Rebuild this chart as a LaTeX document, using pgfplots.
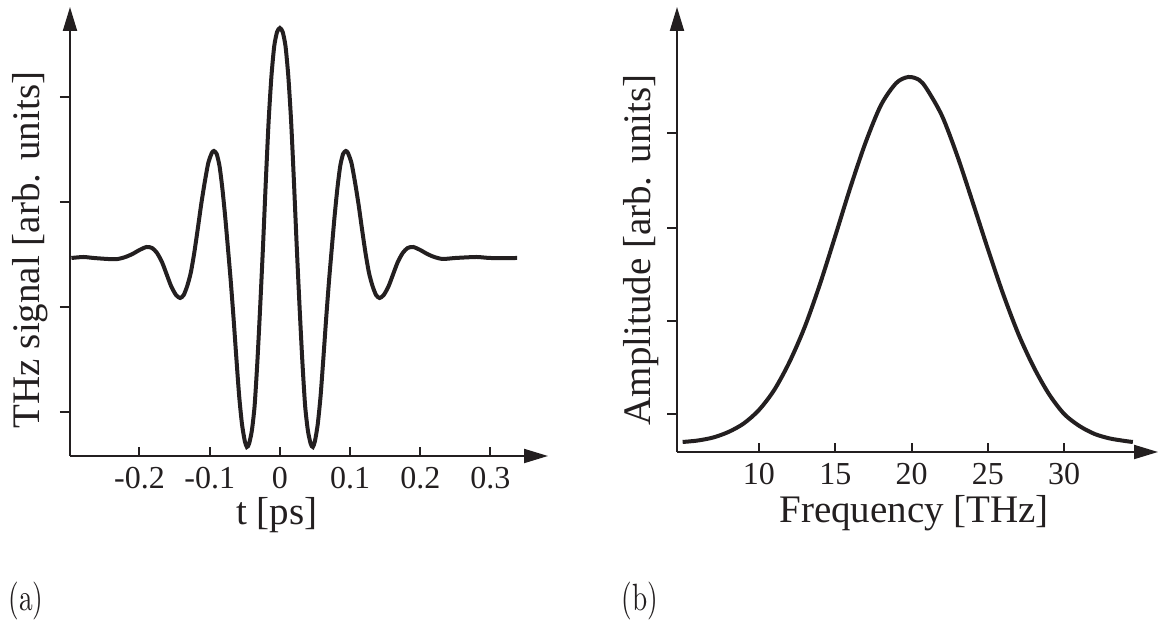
\documentclass[border=0pt]{standalone}
\usepackage{pgfplots}
\pgfplotsset{compat=1.18}
\usepackage{graphicx}
\usepackage{fontspec}
\usetikzlibrary{arrows.meta}
\newfontfamily\tnr{Liberation Serif}
\newfontfamily\lmr{lmroman10-regular.otf}
\definecolor{ink}{HTML}{231F20}

\pgfplotsset{
  pulse/.style={
    scale only axis,
    axis lines=left,
    axis line style={line width=1pt, ink, -{Triangle[length=12pt,width=7pt]}},
    tick align=inside,
    major tick length=4.5pt,
    tick style={line width=1pt, ink},
    every y tick/.append style={xshift=-5pt},
    yticklabels={},
    xticklabel style={font=\tnr\fontsize{16}{19}\selectfont, anchor=base, text=ink, inner sep=0pt},
    label style={font=\tnr\fontsize{19.5}{22}\selectfont, text=ink, inner sep=0pt},
    clip=false,
  },
}

\begin{document}
\begin{tikzpicture}
\useasboundingbox (0,0) rectangle (580.5pt,312.5pt);

% (a) time-domain pulse
\begin{axis}[pulse,
  at={(35pt,84.5pt)}, anchor=south west,
  width=239pt, height=224.5pt,
  xmin=-0.299, xmax=0.382, ymin=0, ymax=449,
  xtick={-0.2,-0.1,0,0.1,0.2,0.3},
  xticklabels={-0.2,-0.1,0,0.1,0.2,0.3},
  xticklabel style={yshift=-16.5pt},
  ytick={44,149,254,359},
  xlabel={t [ps]},
  xlabel style={at={(axis description cs:0.433,-0.153)}, anchor=base},
  ylabel={THz signal [arb. units]},
  ylabel style={at={(axis description cs:-0.063,0.459)}, anchor=base, rotate=0},
]
\addplot[line width=2pt, ink, smooth, tension=0.4] coordinates {
(-0.297,198) (-0.280,199) (-0.265,198) (-0.245,197) (-0.231,197) (-0.220,199)
(-0.210,202) (-0.200,206) (-0.190,209) (-0.182,208) (-0.175,203) (-0.168,194)
(-0.162,183) (-0.155,170) (-0.148,161) (-0.142,158) (-0.137,161) (-0.132,170)
(-0.127,183) (-0.122,203) (-0.117,227) (-0.112,252) (-0.107,274) (-0.102,293)
(-0.097,303) (-0.094,305) (-0.090,302) (-0.086,290) (-0.082,268) (-0.078,240)
(-0.074,208) (-0.070,175) (-0.066,138) (-0.062,98) (-0.058,60) (-0.054,32)
(-0.050,15) (-0.047,9) (-0.044,12) (-0.040,25) (-0.036,50) (-0.032,95)
(-0.028,150) (-0.024,210) (-0.020,275) (-0.016,335) (-0.012,380) (-0.008,410)
(-0.004,424) (0.000,428)
(0.004,424) (0.008,410) (0.012,380) (0.016,335) (0.020,275) (0.024,210)
(0.028,150) (0.032,95) (0.036,50) (0.040,25) (0.044,12) (0.047,9)
(0.050,15) (0.054,32) (0.058,60) (0.062,98) (0.066,138) (0.070,175)
(0.074,208) (0.078,240) (0.082,268) (0.086,290) (0.090,302) (0.094,305)
(0.097,303) (0.102,293) (0.107,274) (0.112,252) (0.117,227) (0.122,203)
(0.127,183) (0.132,170) (0.137,161) (0.142,158) (0.148,161) (0.155,170)
(0.162,183) (0.168,194) (0.175,203) (0.182,208) (0.190,209) (0.200,206)
(0.210,202) (0.220,199) (0.232,197) (0.250,198) (0.280,199) (0.300,198)
(0.338,198)
};
\end{axis}

% (b) spectrum
\begin{axis}[pulse,
  at={(338.5pt,86.5pt)}, anchor=south west,
  width=240.5pt, height=222.5pt,
  xmin=4.63, xmax=36.15, ymin=0, ymax=445,
  xtick={10,15,20,25,30},
  xticklabels={10,15,20,25,30},
  xticklabel style={yshift=-16.5pt},
  ytick={38,131,224,319},
  xlabel={Frequency [THz]},
  xlabel style={at={(axis description cs:0.493,-0.158)}, anchor=base},
  ylabel={Amplitude [arb. units]},
  ylabel style={at={(axis description cs:-0.056,0.454)}, anchor=base, rotate=0},
]
\addplot[line width=2pt, ink, smooth, tension=0.5] coordinates {
(5.0,10) (6,11.5) (7,14.5) (8,20) (9,28.5) (10,42) (11,62) (12,90)
(13,125) (14,168) (15,216) (16,265) (17,310) (18,347) (19,369) (19.8,375)
(20.5,372) (21,363) (22,336) (23,296) (24,250) (25,203) (26,158) (27,118)
(28,85) (29,58) (30,38) (31,26) (32,18) (33,13.5) (34,11) (34.5,10)
};
\end{axis}

\node[anchor=base west, inner sep=0pt, text=ink] at (4pt,7pt)
  {\scalebox{0.72}[1]{\lmr\fontsize{19}{22}\selectfont (a)}};
\node[anchor=base west, inner sep=0pt, text=ink] at (310.5pt,7pt)
  {\scalebox{0.72}[1]{\lmr\fontsize{19}{22}\selectfont (b)}};
\end{tikzpicture}
\end{document}
